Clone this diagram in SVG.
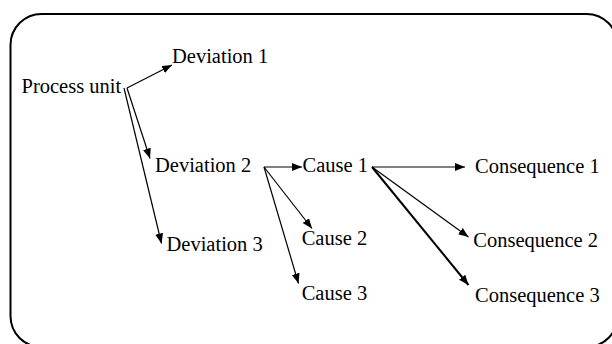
<svg xmlns="http://www.w3.org/2000/svg" width="612" height="344" viewBox="0 0 612 344">
  <style>
    .lbl { font-family: "Liberation Serif", "Times New Roman", serif; font-size: 20.5px; fill: #000; }
    .edge { stroke: #000; stroke-width: 1.2; fill: none; marker-end: url(#head); }
    .edge.bold { stroke-width: 2; }
  </style>
  <defs>
    <marker id="head" markerUnits="userSpaceOnUse" markerWidth="11" markerHeight="9" refX="10" refY="4" orient="auto">
      <path d="M0,0 L10,4 L0,8 z" fill="#000"/>
    </marker>
  </defs>
  <rect x="0" y="0" width="612" height="344" fill="#fff"/>
  <!-- outer frame -->
  <rect id="frame" x="10.5" y="14" width="607" height="333" rx="31" ry="31" fill="none" stroke="#000" stroke-width="2"/>

  <g id="connectors">
    <line class="edge" x1="127" y1="88" x2="172" y2="65"/>
    <line class="edge" x1="127" y1="88" x2="150" y2="158.5"/>
    <line class="edge" x1="124" y1="88" x2="161.5" y2="243.5"/>
    <line class="edge" x1="264" y1="167" x2="302" y2="167"/>
    <line class="edge" x1="264" y1="167" x2="312" y2="228.5"/>
    <line class="edge" x1="264" y1="167" x2="298.5" y2="283.5"/>
    <line class="edge" x1="372" y1="167" x2="465" y2="167"/>
    <line class="edge" x1="372" y1="167" x2="468.5" y2="237"/>
    <line class="edge bold" x1="372" y1="167" x2="468.5" y2="285"/>
  </g>

  <g id="process-unit"><text class="lbl" x="21.5" y="92.7">Process unit</text></g>
  <g id="deviation-1"><text class="lbl" x="172" y="63.3">Deviation 1</text></g>
  <g id="deviation-2"><text class="lbl" x="155" y="171.7">Deviation 2</text></g>
  <g id="deviation-3"><text class="lbl" x="166.5" y="250.7">Deviation 3</text></g>
  <g id="cause-1"><text class="lbl" x="302.5" y="171.7">Cause 1</text></g>
  <g id="cause-2"><text class="lbl" x="301.7" y="245">Cause 2</text></g>
  <g id="cause-3"><text class="lbl" x="301.7" y="300">Cause 3</text></g>
  <g id="consequence-1"><text class="lbl" x="475" y="172.7">Consequence 1</text></g>
  <g id="consequence-2"><text class="lbl" x="473.3" y="247.3">Consequence 2</text></g>
  <g id="consequence-3"><text class="lbl" x="475" y="301.7">Consequence 3</text></g>
</svg>
